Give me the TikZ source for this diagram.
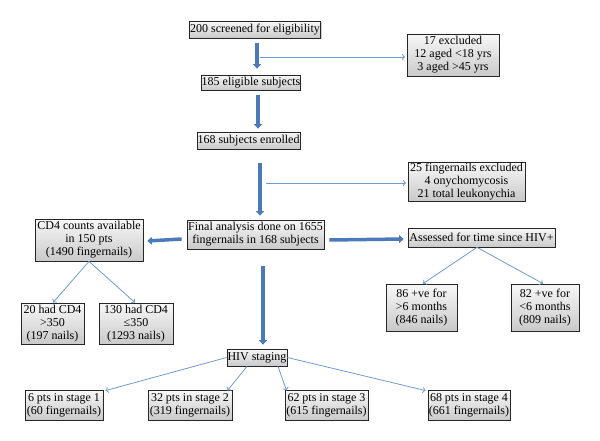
\documentclass[tikz,border=0pt]{standalone}
\usepackage{fontspec}
\setmainfont{Liberation Serif}
\usetikzlibrary{arrows.meta,shadows}
\definecolor{thickblue}{HTML}{4A7AB8}
\definecolor{thinblue}{HTML}{6E9BD3}
\begin{document}
\begin{tikzpicture}[x=1pt,y=-1pt,
  box/.style={draw=black!85, line width=0.8pt, top color=gray!6, bottom color=gray!42,
    align=center, inner sep=0pt, font=\fontsize{12}{13}\selectfont,
    drop shadow={shadow xshift=1pt,shadow yshift=-1pt,fill=black!35,opacity=0.6}},
  bigarrow/.style={draw=thickblue, line width=3.5pt, -{Triangle[width=8pt,length=4.5pt]}},
  smallarrow/.style={draw=thinblue, line width=0.8pt, -{To[length=3pt,width=6pt]}}]
\useasboundingbox (0,0) rectangle (600,441);

\node[box, minimum width=131pt, minimum height=17pt] (b1) at (255,29.5) {200 screened for eligibility};
\node[box, minimum width=92pt, minimum height=42pt] (b2) at (453,55) {17 excluded\\12 aged {<}18 yrs\\3 aged {>}45 yrs};
\node[box, minimum width=98pt, minimum height=15pt] (b3) at (251,82.5) {185 eligible subjects};
\node[box, minimum width=103pt, minimum height=17pt] (b4) at (248.5,140.5) {168 subjects enrolled};
\node[box, minimum width=117pt, minimum height=39pt] (b5) at (466.5,181.5) {25 fingernails excluded\\4 onychomycosis\\21 total leukonychia};
\node[box, minimum width=137pt, minimum height=29pt] (b6) at (255.5,234.5) {Final analysis done on 1655\\fingernails in 168 subjects};
\node[box, minimum width=108pt, minimum height=42pt] (b7) at (89,240) {CD4 counts available\\in 150 pts\\(1490 fingernails)};
\node[box, minimum width=147pt, minimum height=19pt] (b8) at (481.5,237.5) {Assessed for time since HIV+};
\node[box, minimum width=71pt, minimum height=47pt] (b9) at (421.5,307.5) {86 +ve for\\{>}6 months\\(846 nails)};
\node[box, minimum width=68pt, minimum height=47pt] (b10) at (545,307.5) {82 +ve for\\{<}6 months\\(809 nails)};
\node[box, minimum width=63pt, minimum height=41pt] (b11) at (52.5,323.5) {20 had CD4\\{>}350\\(197 nails)};
\node[box, minimum width=74pt, minimum height=41pt] (b12) at (136,323.5) {130 had CD4\\≤350\\(1293 nails)};
\node[box, minimum width=60pt, minimum height=17pt] (b13) at (257,357.5) {HIV staging};
\node[box, minimum width=78pt, minimum height=30pt] (b14) at (64,405) {6 pts in stage 1\\(60 fingernails)};
\node[box, minimum width=84pt, minimum height=30pt] (b15) at (190,405) {32 pts in stage 2\\(319 fingernails)};
\node[box, minimum width=83pt, minimum height=30pt] (b16) at (326.5,405) {62 pts in stage 3\\(615 fingernails)};
\node[box, minimum width=82pt, minimum height=30pt] (b17) at (469,405) {68 pts in stage 4\\(661 fingernails)};

% thick arrows
\draw[bigarrow] ([xshift=2pt,yshift=-5pt]b1.south) -- ([xshift=6pt,yshift=6pt]b3.north);
\draw[bigarrow] ([xshift=7pt,yshift=-5pt]b3.south) -- ([xshift=9.5pt,yshift=3pt]b4.north);
\draw[bigarrow] ([xshift=11.5pt,yshift=-14pt]b4.south) -- ([xshift=4.5pt,yshift=4pt]b6.north);
\draw[bigarrow] ([xshift=-5pt,yshift=-4.5pt]b6.west) -- ([xshift=4pt,yshift=-1pt]b7.east);
\draw[bigarrow] ([xshift=5pt,yshift=-5.5pt]b6.east) -- ([xshift=-4pt,yshift=-1.5pt]b8.west);
\draw[bigarrow] ([xshift=7.5pt,yshift=-17pt]b6.south) -- ([xshift=6pt,yshift=4pt]b13.north);

% thin arrows
\coordinate (j1) at (260,57);
\coordinate (j2) at (266,183);
\draw[smallarrow, shorten >=1.5pt] (j1) -- (b2.west |- j1);
\draw[smallarrow, shorten >=1.5pt] (j2) -- (b5.west |- j2);
\draw[smallarrow] (b7.south) -- ([xshift=0.5pt]b11.north);
\draw[smallarrow] (b7.south) -- ([xshift=-1pt]b12.north);
\draw[smallarrow] ([xshift=-4.5pt]b8.south) -- ([xshift=1.5pt]b9.north);
\draw[smallarrow] ([xshift=-4.5pt]b8.south) -- ([xshift=-2pt]b10.north);
\draw[smallarrow] (b13.west) -- ([xshift=2pt,yshift=-1pt]b14.north east);
\draw[smallarrow] ([xshift=-10pt]b13.south) -- ([xshift=-5pt,yshift=-1pt]b15.north east);
\draw[smallarrow] ([xshift=21pt]b13.south) -- ([xshift=2pt,yshift=-1pt]b16.north west);
\draw[smallarrow] (b13.east) -- ([xshift=-2pt,yshift=-1pt]b17.north west);
\end{tikzpicture}
\end{document}
